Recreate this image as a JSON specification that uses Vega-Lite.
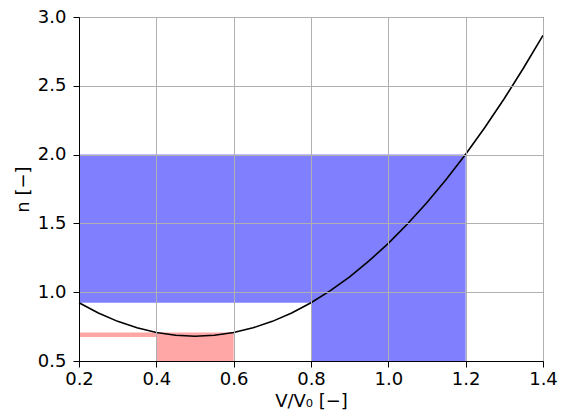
{
  "$schema": "https://vega.github.io/schema/vega-lite/v6.json",
  "width": 464,
  "height": 344,
  "autosize": {"type": "none"},
  "padding": {"left": 79, "top": 17, "right": 25, "bottom": 56},
  "background": "white",
  "config": {
    "font": "DejaVu Sans",
    "view": {"stroke": "black", "strokeWidth": 1}
  },
  "datasets": {
    "regions": [
      {"x": 0.2, "x2": 0.8, "y": 0.923, "y2": 2.0, "g": "blue"},
      {"x": 0.8, "x2": 1.2, "y": 0.5, "y2": 2.0, "g": "blue"},
      {"x": 0.2, "x2": 0.4, "y": 0.675, "y2": 0.707, "g": "red"},
      {"x": 0.4, "x2": 0.6, "y": 0.5, "y2": 0.707, "g": "red"}
    ],
    "curve": [
      {"V": 0.20, "n": 0.923}, {"V": 0.25, "n": 0.849}, {"V": 0.30, "n": 0.788},
      {"V": 0.35, "n": 0.741}, {"V": 0.40, "n": 0.707}, {"V": 0.45, "n": 0.687},
      {"V": 0.50, "n": 0.680}, {"V": 0.55, "n": 0.687}, {"V": 0.60, "n": 0.707},
      {"V": 0.65, "n": 0.741}, {"V": 0.70, "n": 0.788}, {"V": 0.75, "n": 0.849},
      {"V": 0.80, "n": 0.923}, {"V": 0.85, "n": 1.011}, {"V": 0.90, "n": 1.112},
      {"V": 0.95, "n": 1.227}, {"V": 1.00, "n": 1.355}, {"V": 1.05, "n": 1.497},
      {"V": 1.10, "n": 1.652}, {"V": 1.15, "n": 1.821}, {"V": 1.20, "n": 2.003},
      {"V": 1.25, "n": 2.199}, {"V": 1.30, "n": 2.408}, {"V": 1.35, "n": 2.631},
      {"V": 1.40, "n": 2.867}
    ]
  },
  "layer": [
    {
      "data": {"name": "regions"},
      "mark": {"type": "rect", "strokeWidth": 0},
      "encoding": {
        "x": {
          "field": "x", "type": "quantitative",
          "scale": {"domain": [0.2, 1.4], "nice": false, "zero": false},
          "axis": {
            "values": [0.2, 0.4, 0.6, 0.8, 1.0, 1.2, 1.4], "format": ".1f",
            "title": "V/V₀ [−]", "titleY": 31, "titleBaseline": "top",
            "labelPadding": 3, "labelFlush": false, "labelOverlap": false,
            "labelFontSize": 18, "titleFontSize": 18, "titleFontWeight": "normal",
            "labelColor": "black", "titleColor": "black",
            "domainColor": "black", "domainWidth": 1,
            "tickColor": "black", "tickSize": 6, "tickWidth": 1,
            "gridColor": "#b0b0b0", "gridWidth": 1, "gridOpacity": 1,
            "zindex": 1
          }
        },
        "x2": {"field": "x2"},
        "y": {
          "field": "y", "type": "quantitative",
          "scale": {"domain": [0.5, 3.0], "nice": false, "zero": false},
          "axis": {
            "values": [0.5, 1.0, 1.5, 2.0, 2.5, 3.0], "format": ".1f",
            "title": "n [−]", "titleX": -56, "titleBaseline": "middle",
            "labelPadding": 7, "labelFlush": false, "labelOverlap": false,
            "labelFontSize": 18, "titleFontSize": 18, "titleFontWeight": "normal",
            "labelColor": "black", "titleColor": "black",
            "domainColor": "black", "domainWidth": 1,
            "tickColor": "black", "tickSize": 6, "tickWidth": 1,
            "gridColor": "#b0b0b0", "gridWidth": 1, "gridOpacity": 1,
            "zindex": 1
          }
        },
        "y2": {"field": "y2"},
        "color": {
          "field": "g", "type": "nominal",
          "scale": {"domain": ["blue", "red"], "range": ["#8080ff", "#ffa6a6"]},
          "legend": null
        },
        "opacity": {"value": 1}
      }
    },
    {
      "data": {"name": "curve"},
      "mark": {"type": "line", "color": "black", "strokeWidth": 1.6},
      "encoding": {
        "x": {"field": "V", "type": "quantitative"},
        "y": {"field": "n", "type": "quantitative"}
      }
    }
  ]
}
